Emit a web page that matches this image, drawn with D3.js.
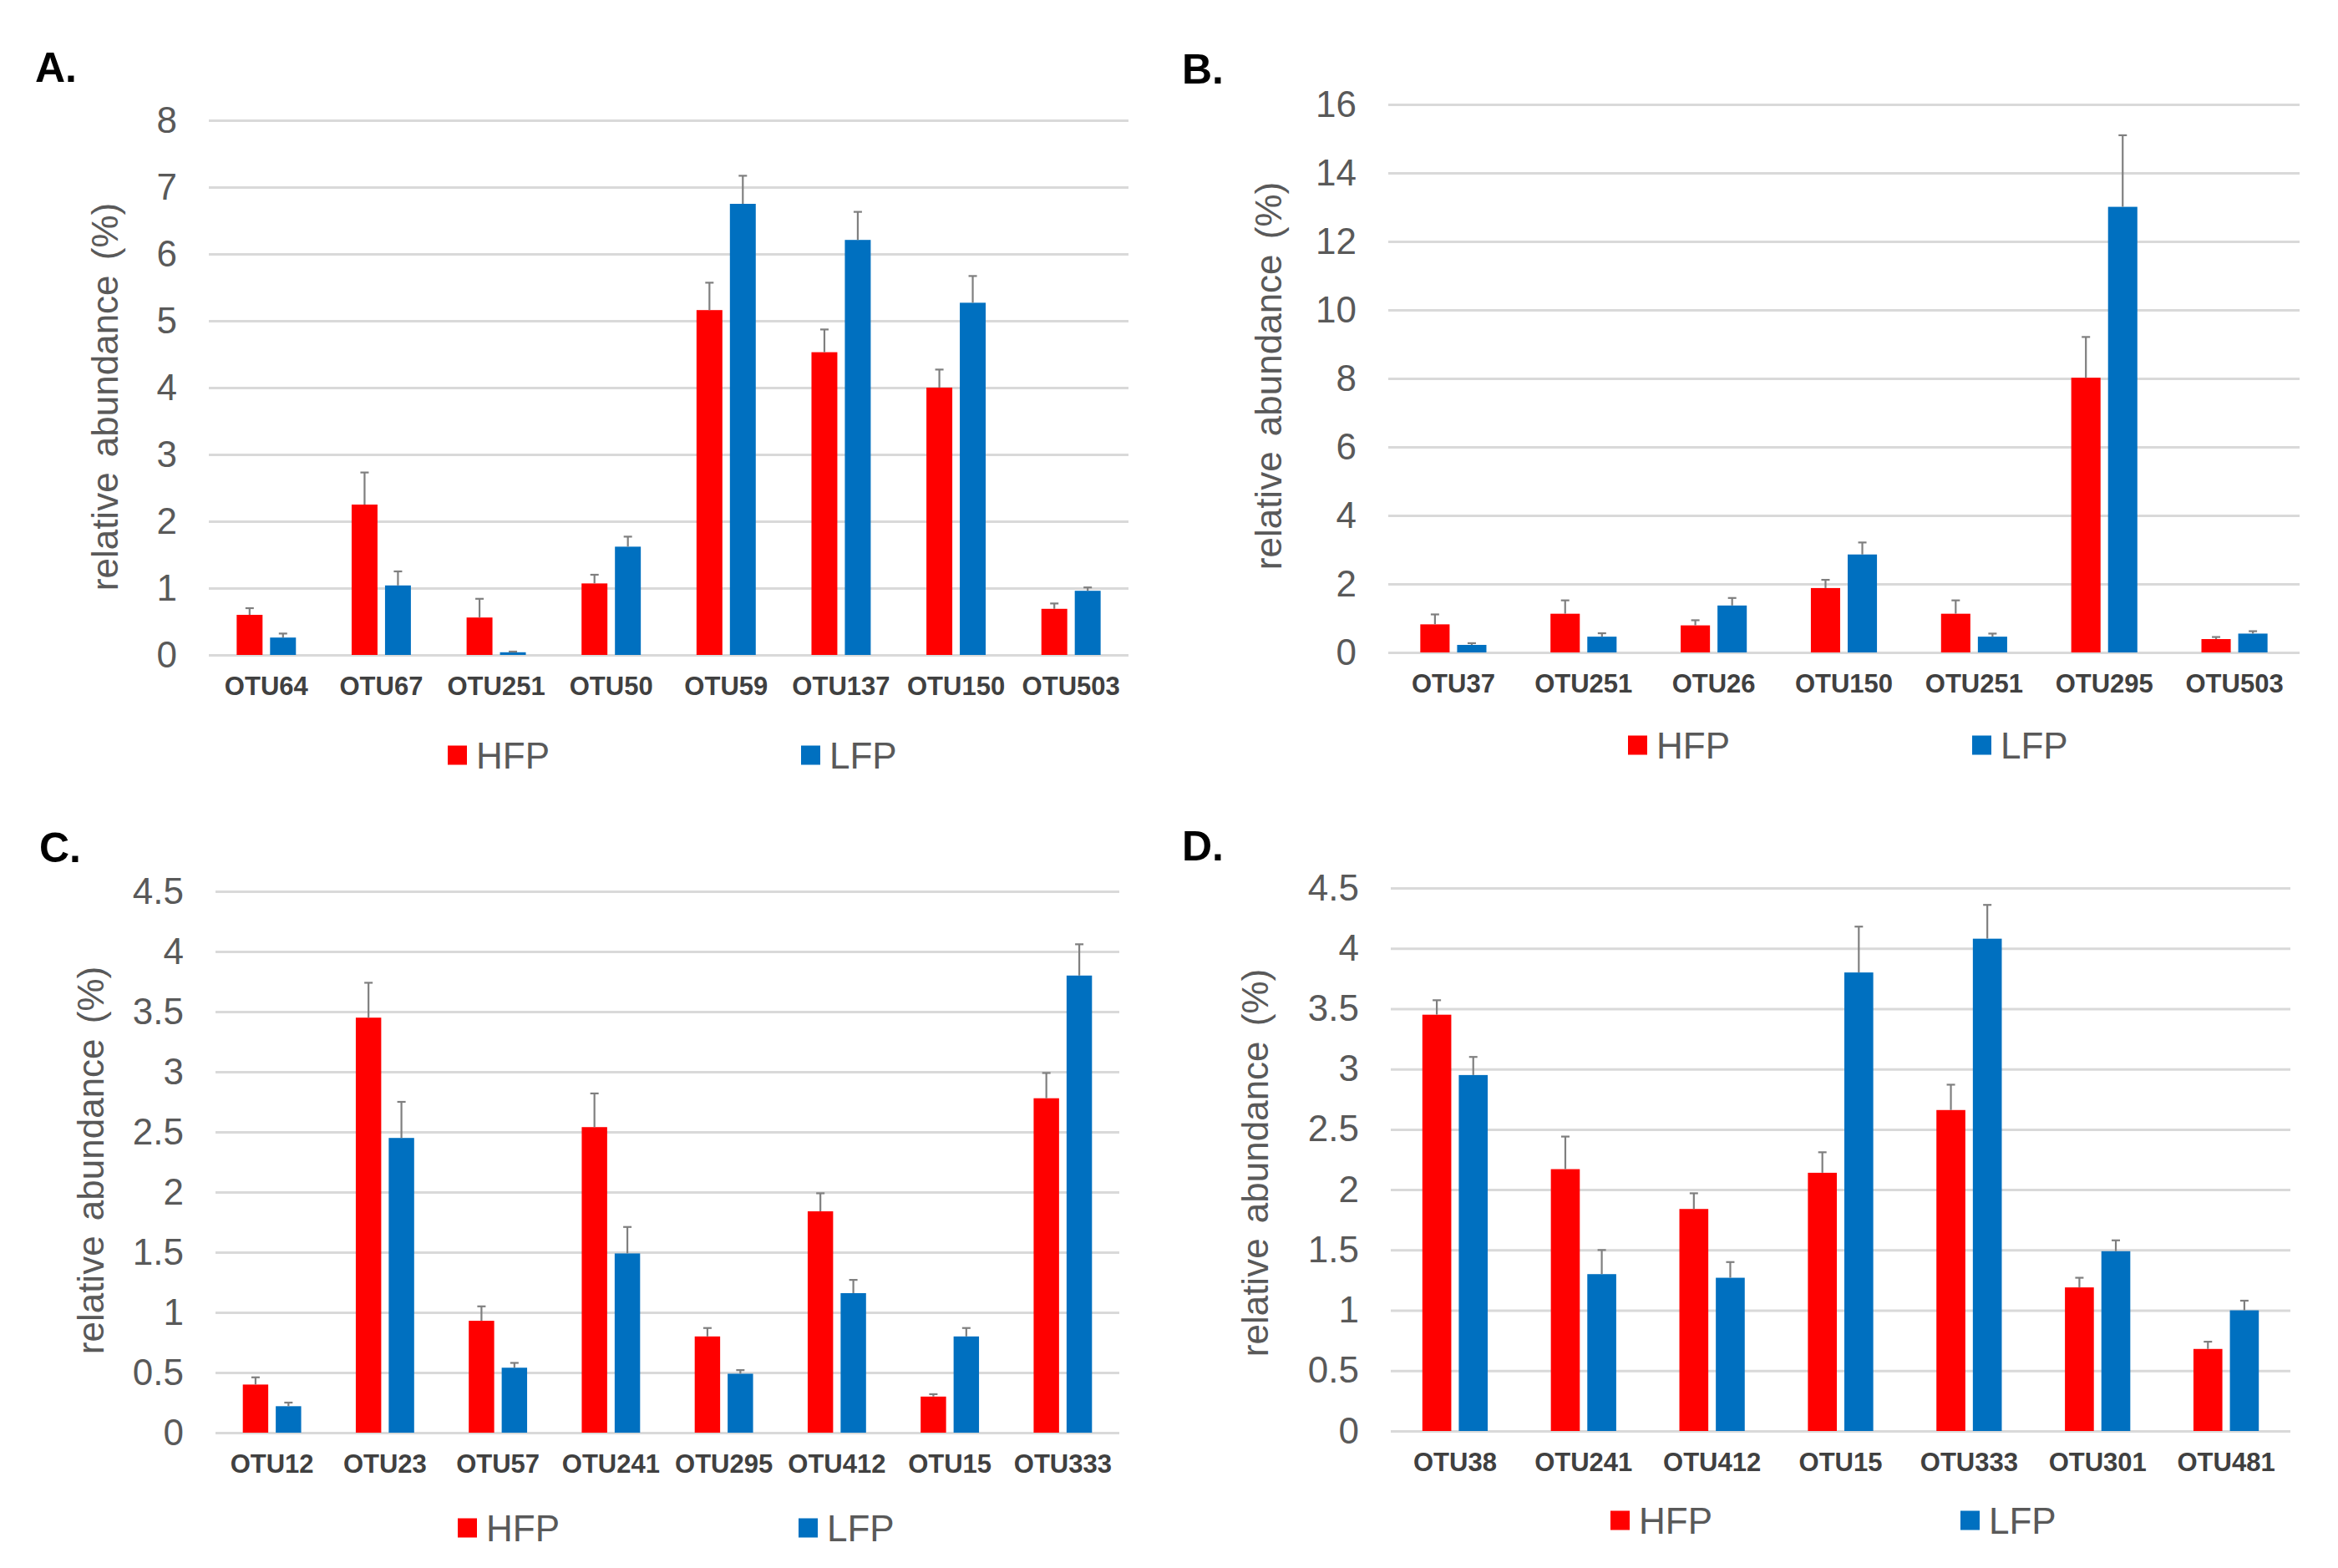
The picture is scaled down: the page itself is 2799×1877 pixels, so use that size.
<!DOCTYPE html>
<html>
<head>
<meta charset="utf-8">
<script src="https://cdn.jsdelivr.net/npm/d3@7"></script>
<style>
  body { margin: 0; background: #fff; }
  svg { display: block; font-family: Arial, "Liberation Sans", sans-serif; }
</style>
</head>
<body>
<div id="chart"></div>
<script>
// ---------------------------------------------------
// 1. DATOS
// ---------------------------------------------------

// A.
var catsA = ["OTU64", "OTU67", "OTU251", "OTU50", "OTU59", "OTU137", "OTU150", "OTU503"];
var hfpA = [0.60, 2.25, 0.56, 1.07, 5.16, 4.53, 4.00, 0.69];
var hfpErrA = [0.10, 0.48, 0.28, 0.13, 0.41, 0.34, 0.27, 0.08];
var lfpA = [0.26, 1.04, 0.04, 1.62, 6.75, 6.21, 5.27, 0.96];
var lfpErrA = [0.06, 0.21, 0.01, 0.15, 0.42, 0.42, 0.40, 0.05];
var ticksA = [0, 1, 2, 3, 4, 5, 6, 7, 8];

// B.
var catsB = ["OTU37", "OTU251", "OTU26", "OTU150", "OTU251", "OTU295", "OTU503"];
var hfpB = [0.82, 1.13, 0.79, 1.88, 1.13, 8.02, 0.39];
var hfpErrB = [0.29, 0.39, 0.15, 0.24, 0.39, 1.19, 0.06];
var lfpB = [0.22, 0.46, 1.37, 2.86, 0.46, 13.01, 0.55];
var lfpErrB = [0.05, 0.10, 0.22, 0.35, 0.09, 2.09, 0.07];
var ticksB = [0, 2, 4, 6, 8, 10, 12, 14, 16];

// C.
var catsC = ["OTU12", "OTU23", "OTU57", "OTU241", "OTU295", "OTU412", "OTU15", "OTU333"];
var hfpC = [0.40, 3.45, 0.93, 2.54, 0.80, 1.84, 0.30, 2.78];
var hfpErrC = [0.06, 0.29, 0.12, 0.28, 0.07, 0.15, 0.02, 0.21];
var lfpC = [0.22, 2.45, 0.54, 1.49, 0.49, 1.16, 0.80, 3.80];
var lfpErrC = [0.03, 0.30, 0.04, 0.22, 0.03, 0.11, 0.07, 0.26];
var ticksC = [0, 0.5, 1, 1.5, 2, 2.5, 3, 3.5, 4, 4.5];

// D.
var catsD = ["OTU38", "OTU241", "OTU412", "OTU15", "OTU333", "OTU301", "OTU481"];
var hfpD = [3.45, 2.17, 1.84, 2.14, 2.66, 1.19, 0.68];
var hfpErrD = [0.12, 0.27, 0.13, 0.17, 0.21, 0.08, 0.06];
var lfpD = [2.95, 1.30, 1.27, 3.80, 4.08, 1.49, 1.00];
var lfpErrD = [0.15, 0.20, 0.13, 0.38, 0.28, 0.09, 0.08];
var ticksD = [0, 0.5, 1, 1.5, 2, 2.5, 3, 3.5, 4, 4.5];

var seriesNames = ["HFP", "LFP"];
var seriesColors = ["#ff0000", "#0070c0"];

// ---------------------------------------------------
// 2. LIENZO
// ---------------------------------------------------
var width = 2799, height = 1877;
var svg = d3.select("#chart").append("svg")
    .attr("width", width)
    .attr("height", height);

// posiciones de cada panel (en px de la imagen)
var panels = [
    {letter: "A.", lx: 42, ly: 98, x0: 250, x1: 1351, y0: 784, y1: 144,
     cats: catsA, hfp: hfpA, hfpErr: hfpErrA, lfp: lfpA, lfpErr: lfpErrA, ticks: ticksA,
     titleX: 125, titleY: 475, legY: 904, legX: [536, 959]},
    {letter: "B.", lx: 1415, ly: 100, x0: 1662, x1: 2753, y0: 781, y1: 125,
     cats: catsB, hfp: hfpB, hfpErr: hfpErrB, lfp: lfpB, lfpErr: lfpErrB, ticks: ticksB,
     titleX: 1518, titleY: 450, legY: 892, legX: [1949, 2361]},
    {letter: "C.", lx: 47, ly: 1032, x0: 258, x1: 1340, y0: 1715, y1: 1067,
     cats: catsC, hfp: hfpC, hfpErr: hfpErrC, lfp: lfpC, lfpErr: lfpErrC, ticks: ticksC,
     titleX: 108, titleY: 1389, legY: 1829, legX: [548, 956]},
    {letter: "D.", lx: 1415, ly: 1030, x0: 1665, x1: 2742, y0: 1713, y1: 1063,
     cats: catsD, hfp: hfpD, hfpErr: hfpErrD, lfp: lfpD, lfpErr: lfpErrD, ticks: ticksD,
     titleX: 1502, titleY: 1392, legY: 1820, legX: [1928, 2347]}
];

panels.forEach(drawPanel);

// ---------------------------------------------------
// 3. PANEL
// ---------------------------------------------------
function drawPanel(p) {
    var g = svg.append("g");

    // escalas
    var idx = d3.range(p.cats.length);
    var x = d3.scaleBand().domain(idx).range([p.x0, p.x1]);
    var y = d3.scaleLinear()
        .domain([p.ticks[0], p.ticks[p.ticks.length - 1]])
        .range([p.y0, p.y1]);

    var bw = x.bandwidth() * 0.225;
    var gap = 9;

    // letra del panel
    g.append("text")
        .attr("x", p.lx)
        .attr("y", p.ly)
        .attr("font-size", 50)
        .attr("font-weight", "bold")
        .attr("fill", "#000")
        .text(p.letter);

    // rejilla horizontal + etiquetas del eje Y
    var yAxis = d3.axisLeft(y)
        .tickValues(p.ticks)
        .tickSize(-(p.x1 - p.x0))
        .tickPadding(38)
        .tickFormat(d3.format("~g"));

    var ax = g.append("g")
        .attr("transform", "translate(" + p.x0 + ",0)")
        .call(yAxis);
    ax.select(".domain").remove();
    ax.selectAll(".tick line")
        .attr("stroke", "#d9d9d9")
        .attr("stroke-width", 3);
    ax.selectAll(".tick text")
        .attr("font-size", 44)
        .attr("fill", "#595959")
        .attr("font-family", "Arial, 'Liberation Sans', sans-serif");

    // título del eje Y
    g.append("text")
        .attr("transform", "translate(" + p.titleX + "," + p.titleY + ") rotate(-90)")
        .attr("text-anchor", "middle")
        .attr("dominant-baseline", "central")
        .attr("font-size", 44)
        .attr("word-spacing", 6)
        .attr("fill", "#595959")
        .text("relative abundance (%)");

    // barras
    var series = [
        {vals: p.hfp, errs: p.hfpErr, color: seriesColors[0], off: -gap / 2 - bw},
        {vals: p.lfp, errs: p.lfpErr, color: seriesColors[1], off: gap / 2}
    ];

    series.forEach(function (s) {
        var bars = g.append("g");
        bars.selectAll("rect")
            .data(idx)
            .enter()
            .append("rect")
            .attr("x", i => x(i) + x.bandwidth() / 2 + s.off)
            .attr("y", i => y(s.vals[i]))
            .attr("width", bw)
            .attr("height", i => y(0) - y(s.vals[i]))
            .attr("fill", s.color);

        // barras de error (sólo hacia arriba)
        var errs = g.append("g")
            .attr("stroke", "#7f7f7f")
            .attr("stroke-width", 2.2);
        errs.selectAll("line.v")
            .data(idx)
            .enter()
            .append("line")
            .attr("class", "v")
            .attr("x1", i => x(i) + x.bandwidth() / 2 + s.off + bw / 2)
            .attr("x2", i => x(i) + x.bandwidth() / 2 + s.off + bw / 2)
            .attr("y1", i => y(s.vals[i]))
            .attr("y2", i => y(s.vals[i] + s.errs[i]));
        errs.selectAll("line.c")
            .data(idx)
            .enter()
            .append("line")
            .attr("class", "c")
            .attr("x1", i => x(i) + x.bandwidth() / 2 + s.off + bw / 2 - 5)
            .attr("x2", i => x(i) + x.bandwidth() / 2 + s.off + bw / 2 + 5)
            .attr("y1", i => y(s.vals[i] + s.errs[i]))
            .attr("y2", i => y(s.vals[i] + s.errs[i]));
    });

    // etiquetas de categorías
    g.append("g")
        .selectAll("text")
        .data(idx)
        .enter()
        .append("text")
        .attr("x", i => x(i) + x.bandwidth() / 2)
        .attr("y", p.y0 + 48)
        .attr("text-anchor", "middle")
        .attr("font-size", 31)
        .attr("font-weight", "bold")
        .attr("fill", "#404040")
        .text(i => p.cats[i]);

    // leyenda
    var sq = 23;
    var leg = g.append("g");
    seriesNames.forEach(function (name, k) {
        leg.append("rect")
            .attr("x", p.legX[k])
            .attr("y", p.legY - sq / 2)
            .attr("width", sq)
            .attr("height", sq)
            .attr("fill", seriesColors[k]);
        leg.append("text")
            .attr("x", p.legX[k] + sq + 11)
            .attr("y", p.legY + 16)
            .attr("font-size", 44)
            .attr("fill", "#595959")
            .text(name);
    });
}
</script>
</body>
</html>
